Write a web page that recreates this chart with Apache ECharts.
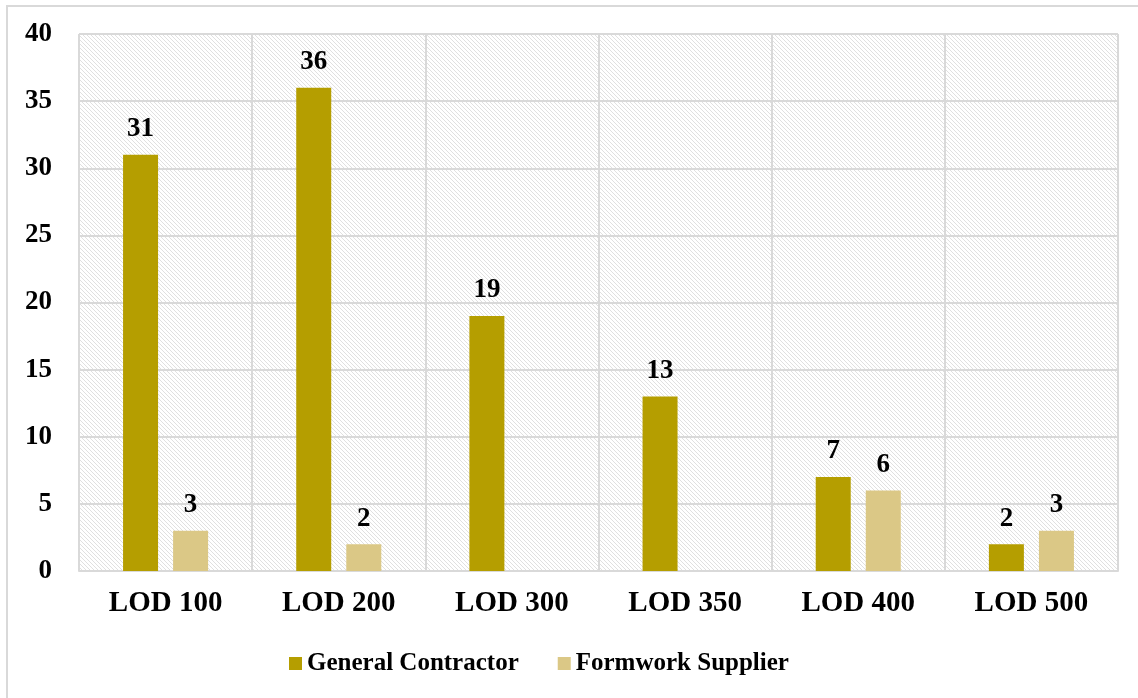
<!DOCTYPE html>
<html>
<head>
<meta charset="utf-8">
<script src="https://cdn.jsdelivr.net/npm/echarts@6/dist/echarts.min.js"></script>
<style>
  html, body { margin: 0; padding: 0; background: #fff; }
  #frame { position: absolute; left: 6px; top: 5px; width: 1140px; height: 700px; border: 2px solid #d9d9d9; box-sizing: border-box; }
  #main { position: absolute; left: 0; top: 0; width: 1138px; height: 698px; }
</style>
</head>
<body>
<div id="frame"></div>
<div id="main"></div>
<script>
  // data
  const categories = ['LOD 100', 'LOD 200', 'LOD 300', 'LOD 350', 'LOD 400', 'LOD 500'];
  const generalContractor = [31, 36, 19, 13, 7, 2];
  const formworkSupplier = [3, 2, 0, 0, 6, 3];

  // hatch pattern for plot background
  const hatch = document.createElement('canvas');
  hatch.width = 4;
  hatch.height = 4;
  const hc = hatch.getContext('2d');
  hc.fillStyle = '#ffffff';
  hc.fillRect(0, 0, 4, 4);
  hc.fillStyle = '#e0e0e0';
  for (let i = 0; i < 4; i++) hc.fillRect(i, i, 1, 1);

  const font = '"Liberation Serif", "Times New Roman", serif';
  const myChart = echarts.init(document.getElementById('main'), null, { renderer: 'canvas' });

  const labelStyle = {
    show: true,
    position: 'top',
    distance: 12,
    fontFamily: font,
    fontWeight: 'bold',
    fontSize: 27,
    color: '#000',
    formatter: function (p) { return p.value === 0 ? '' : p.value; }
  };

  const option = {
    backgroundColor: 'transparent',
    animation: false,
    grid: {
      left: 79, right: 20, top: 34, bottom: 127,
      show: true,
      borderWidth: 0,
      backgroundColor: { image: hatch, repeat: 'repeat' }
    },
    legend: {
      left: 284,
      top: 646,
      itemWidth: 13,
      itemHeight: 13,
      itemGap: 39,
      icon: 'rect',
      textStyle: { fontFamily: font, fontWeight: 'bold', fontSize: 25, color: '#000' },
      data: ['General Contractor', 'Formwork Supplier']
    },
    xAxis: {
      type: 'category',
      data: categories,
      axisLine: { show: true, lineStyle: { color: '#d9d9d9', width: 2 } },
      axisTick: { show: false },
      splitLine: { show: true, lineStyle: { color: '#d9d9d9', width: 2 } },
      axisLabel: { fontFamily: font, fontWeight: 'bold', fontSize: 29, color: '#000', margin: 18 }
    },
    yAxis: {
      type: 'value',
      min: 0,
      max: 40,
      interval: 5,
      axisLine: { show: false },
      axisTick: { show: false },
      splitLine: { lineStyle: { color: '#d9d9d9', width: 2 } },
      axisLabel: { fontFamily: font, fontWeight: 'bold', fontSize: 27, color: '#000', margin: 27 }
    },
    series: [
      {
        name: 'General Contractor',
        type: 'bar',
        data: generalContractor,
        barWidth: 35,
        barGap: '43%',
        itemStyle: { color: '#b59e00' },
        label: labelStyle
      },
      {
        name: 'Formwork Supplier',
        type: 'bar',
        data: formworkSupplier,
        barWidth: 35,
        itemStyle: { color: '#dbc886' },
        label: labelStyle
      }
    ]
  };

  myChart.setOption(option);
</script>
</body>
</html>
